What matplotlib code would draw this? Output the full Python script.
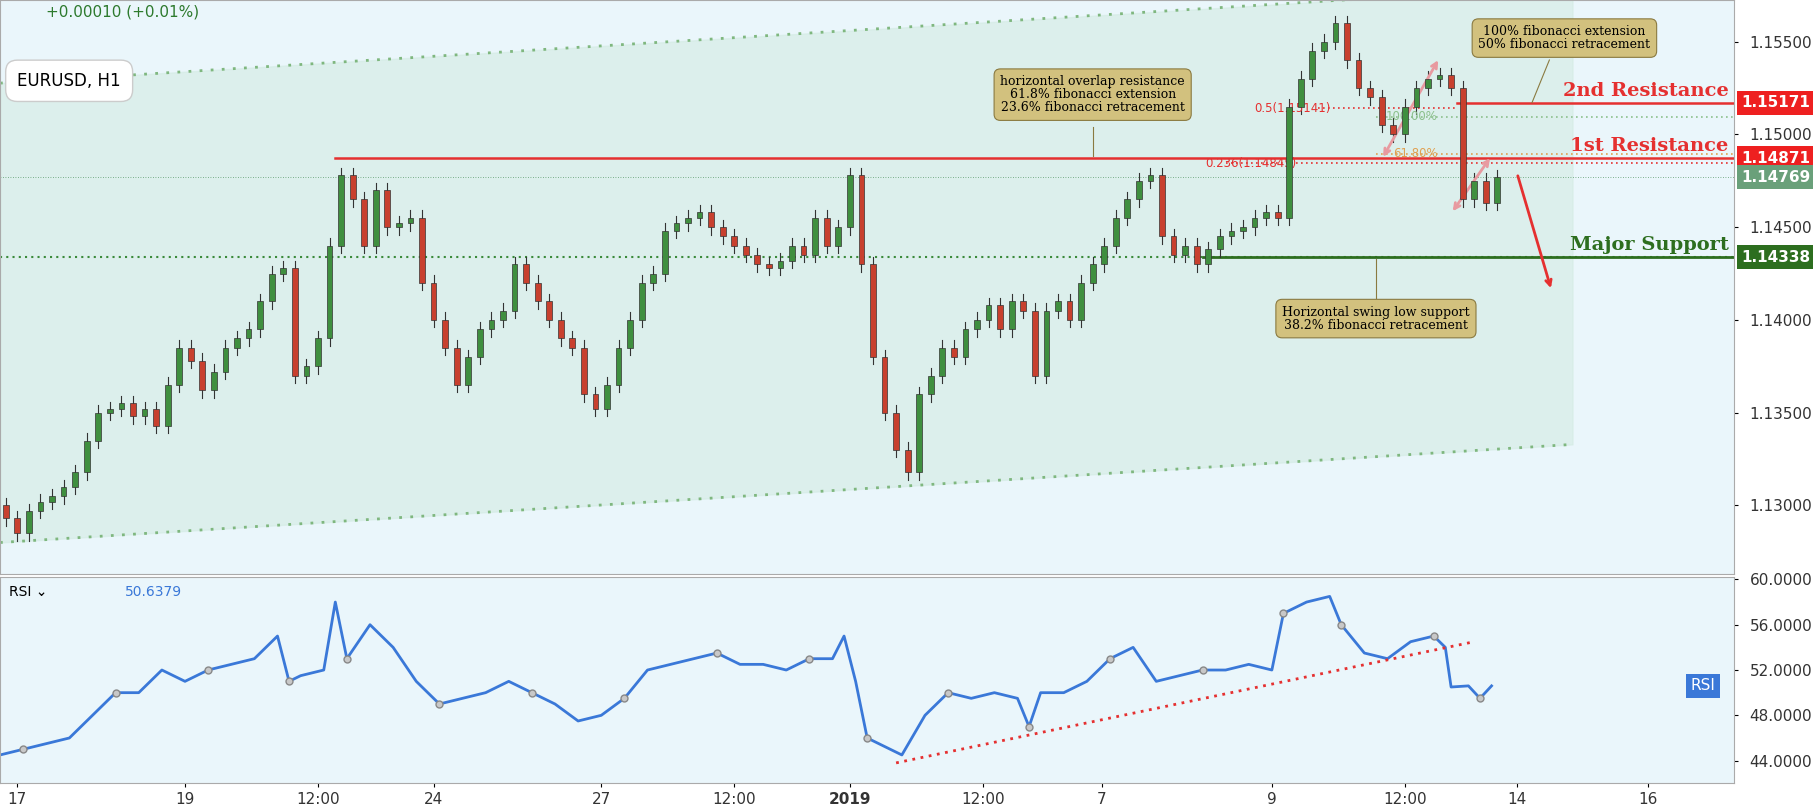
import numpy as np
import matplotlib.pyplot as plt

# closes, one candle every 10 x-units (x-units ~ chart pixels)
closes = [1.1293,1.1285,1.1297,1.1302,1.1305,1.1310,1.1318,1.1335,1.1350,1.1352,
          1.1355,1.1348,1.1352,1.1343,1.1365,1.1385,1.1378,1.1362,1.1372,1.1385,
          1.1390,1.1395,1.1410,1.1425,1.1428,1.1370,1.1375,1.1390,1.1440,1.1478,
          1.1465,1.1440,1.1470,1.1450,1.1452,1.1455,1.1420,1.1400,1.1385,1.1365,
          1.1380,1.1395,1.1400,1.1405,1.1430,1.1420,1.1410,1.1400,1.1390,1.1385,
          1.1360,1.1352,1.1365,1.1385,1.1400,1.1420,1.1425,1.1448,1.1452,1.1455,
          1.1458,1.1450,1.1445,1.1440,1.1435,1.1430,1.1428,1.1432,1.1440,1.1435,
          1.1455,1.1440,1.1450,1.1478,1.1430,1.1380,1.1350,1.1330,1.1318,1.1360,
          1.1370,1.1385,1.1380,1.1395,1.1400,1.1408,1.1395,1.1410,1.1405,1.1370,
          1.1405,1.1410,1.1400,1.1420,1.1430,1.1440,1.1455,1.1465,1.1475,1.1478,
          1.1445,1.1435,1.1440,1.1430,1.1438,1.1445,1.1448,1.1450,1.1455,1.1458,
          1.1455,1.1515,1.1530,1.1545,1.1550,1.1560,1.1540,1.1525,1.1520,1.1505,
          1.1500,1.1515,1.1525,1.1530,1.1532,1.1525,1.1465,1.1475,1.1463,1.1477]
first_open = 1.1300
wick = 0.0004

rsi_x = [0,20,40,60,80,100,120,140,160,180,200,220,240,250,260,280,290,300,320,340,
         360,380,400,420,440,460,480,500,520,540,560,580,600,620,640,660,680,700,720,730,
         740,750,760,780,800,820,840,860,880,890,900,920,940,960,980,1000,1020,1040,1060,1080,
         1100,1110,1120,1130,1150,1160,1180,1200,1220,1240,1250,1255,1270,1280,1290]
rsi_vals = [44.5,45,45.5,46,48,50,50,52,51,52,52.5,53,55,51,51.5,52,58,53,56,54,
            51,49,49.5,50,51,50,49,47.5,48,49.5,52,52.5,53,53.5,52.5,52.5,52,53,53,55,
            51,46,45.5,44.5,48,50,49.5,50,49.5,47,50,50,51,53,54,51,51.5,52,52,52.5,
            52,57,57.5,58,58.5,56,53.5,53,54.5,55,54,50.5,50.6,49.5,50.6]

price_ticks = [1.155, 1.150, 1.145, 1.140, 1.135, 1.130]
rsi_ticks = [60, 56, 52, 48, 44]
x_ticks = [15, 160, 275, 375, 520, 635, 735, 850, 953, 1100, 1215, 1312, 1425]
x_labels = ['17', '19', '12:00', '24', '27', '12:00', '2019', '12:00', '7', '9', '12:00', '14', '16']

bg = '#eaf6fb'
up, dn = '#3f8f3f', '#c8402e'

fig = plt.figure(figsize=(18.13, 8.08), dpi=100, facecolor='white')
W, H = 1568, 700   # layout measured on a 1568x700 view
ax = fig.add_axes([0, 1 - 497 / H, 1500 / W, 497 / H], facecolor=bg)
ar = fig.add_axes([0, 1 - 678 / H, 1500 / W, 178 / H], facecolor=bg, sharex=ax)

py = lambda y: 1.155 - (y - 36) * 6.22e-5
FS = 11

# channel
cx = np.array([0, 1360])
upper = np.array([py(72), py(-12)])
lower = np.array([py(470), py(385)])
ax.fill_between(cx, lower, upper, color='#d3ebe3', alpha=0.6, zorder=0)
ax.plot([0, 1500], [py(72), py(-21)], ls=(0, (1, 3)), color='#7fb77f', lw=2)
ax.plot(cx, lower, ls=(0, (1, 3)), color='#7fb77f', lw=2)

# candles
xs = np.arange(len(closes)) * 10 + 5
opens = [first_open] + closes[:-1]
for x, o, c in zip(xs, opens, closes):
    col = up if c >= o else dn
    lo, hi = min(o, c), max(o, c)
    ax.plot([x, x], [lo - wick, hi + wick], color='#333333', lw=0.8, zorder=3)
    ax.bar(x, max(hi - lo, 0.00005), bottom=lo, width=5, color=col,
           edgecolor='#333333', lw=0.5, zorder=4)

# levels
ax.axhline(1.14769, color='#5a9a6a', lw=0.6, ls=(0, (1, 2)))
ax.plot([290, 1500], [1.14871, 1.14871], color='#e53030', lw=1.8)
ax.plot([1260, 1500], [1.15171, 1.15171], color='#e53030', lw=1.8)
ax.plot([0, 1500], [1.14338, 1.14338], color='#3a8a3a', ls=(0, (1, 2)), lw=1.5)
ax.plot([1040, 1500], [1.14338, 1.14338], color='#2d6e1f', lw=2)
ax.plot([1140, 1260], [1.15141, 1.15141], color='#e53030', ls=(0, (1, 2)), lw=1.2)
ax.plot([1060, 1500], [1.14845, 1.14845], color='#e53030', ls=(0, (1, 2)), lw=1.2)
ax.plot([1190, 1500], [py(101), py(101)], color='#8cc08c', ls=(0, (1, 2)), lw=1.2)
ax.plot([1190, 1500], [py(133), py(133)], color='#e0a050', ls=(0, (1, 2)), lw=1.2)
ax.text(1085, 1.15141, '0.5(1.15141)', fontsize=8.5, color='#e53030', va='center')
ax.text(1042, 1.14845, '0.236(1.14845)', fontsize=8.5, color='#e53030', va='center')
ax.text(1198, py(101), '100.00%', fontsize=8.5, color='#8cc08c', va='center')
ax.text(1205, py(133), '61.80%', fontsize=8.5, color='#e0a050', va='center')

# arrows
pk = dict(arrowstyle='<->', color='#e89aa0', lw=2)
ax.annotate('', xy=(1195, py(138)), xytext=(1245, py(50)), arrowprops=pk)
ax.annotate('', xy=(1255, py(185)), xytext=(1290, py(135)), arrowprops=pk)
ax.annotate('', xy=(1342, py(252)), xytext=(1312, py(150)),
            arrowprops=dict(arrowstyle='->', color='#e53030', lw=2))

for y, t, c in [(1.15171, '2nd Resistance', '#e53030'), (1.14871, '1st Resistance', '#e53030'),
                (1.14338, 'Major Support', '#2d6e1f')]:
    ax.text(1495, y + 0.00015, t, color=c, fontsize=14, fontfamily='DejaVu Serif',
            fontweight='bold', ha='right', va='bottom')

note = dict(boxstyle='round,pad=0.5', fc='#d2c17e', ec='#8a7a40', lw=0.8)
ax.text(945, py(82), 'horizontal overlap resistance\n61.8% fibonacci extension\n23.6% fibonacci retracement',
        fontsize=9, ha='center', va='center', bbox=note, fontfamily='DejaVu Serif', linespacing=1.0)
ax.plot([945, 945], [py(110), py(135)], color='#8a7a40', lw=0.8)
ax.text(1190, py(276), 'Horizontal swing low support\n38.2% fibonacci retracement',
        fontsize=9, ha='center', va='center', bbox=note, fontfamily='DejaVu Serif', linespacing=1.0)
ax.plot([1190, 1190], [py(224), py(258)], color='#8a7a40', lw=0.8)
ax.text(1353, py(33), '100% fibonacci extension\n50% fibonacci retracement',
        fontsize=9, ha='center', va='center', bbox=note, fontfamily='DejaVu Serif', linespacing=1.0)
ax.plot([1325, 1340], [1.15171, py(52)], color='#8a7a40', lw=0.8)

ax.text(15, py(70), 'EURUSD, H1', fontsize=12, va='center',
        bbox=dict(boxstyle='round,pad=0.7', fc='white', ec='#cccccc'))
ax.text(40, py(10), '+0.00010 (+0.01%)', fontsize=11, color='#2d7a2d', va='center')

ax.set_xlim(0, 1500)
ax.set_ylim(py(497), py(0))
ax.yaxis.tick_right()
ax.set_yticks(price_ticks)
ax.set_yticklabels([f'{v:.5f}' for v in price_ticks], fontsize=FS, color='#333')
ax.tick_params(axis='x', bottom=False, labelbottom=False)
ax.tick_params(axis='y', length=3, pad=8)
for s in ax.spines.values():
    s.set_color('#aaaaaa')

def tag(axis, y, txt, fc, tc='white'):
    axis.text(1.004, y, txt, transform=axis.get_yaxis_transform(), fontsize=FS,
              color=tc, va='center', fontweight='bold',
              bbox=dict(boxstyle='square,pad=0.3', fc=fc, ec='none'))

tag(ax, 1.15171, '1.15171', '#ee2020')
tag(ax, 1.14871, '1.14871', '#ee2020')
tag(ax, 1.14769, '1.14769', '#6aa07a')
tag(ax, 1.14338, '1.14338', '#2d6e1f')

# RSI
ar.plot(rsi_x, rsi_vals, color='#3a78d8', lw=2)
ar.plot(rsi_x[1::4], rsi_vals[1::4], 'o', ms=5, mfc='#c8c8c8', mec='#888', lw=0)
ar.plot([775, 1275], [43.8, 54.5], color='#e53030', ls=(0, (1, 2)), lw=2)
ar.set_ylim(42.06, 60.2)
ar.yaxis.tick_right()
ar.set_yticks(rsi_ticks)
ar.set_yticklabels([f'{v:.4f}' for v in rsi_ticks], fontsize=FS, color='#333')
ar.tick_params(axis='y', length=3, pad=8)
ar.set_xticks(x_ticks)
ar.set_xticklabels(x_labels, fontsize=FS, color='#333')
for lbl in ar.get_xticklabels():
    if lbl.get_text() == '2019':
        lbl.set_fontweight('bold')
ar.tick_params(axis='x', length=3)
for s in ar.spines.values():
    s.set_color('#aaaaaa')
ar.text(8, 58.9, 'RSI \u2304', fontsize=10, va='center')
ar.text(108, 58.9, '50.6379', fontsize=10, color='#3a78d8', va='center')
ar.text(1462, 50.6, 'RSI', fontsize=FS, color='white', va='center',
        bbox=dict(boxstyle='square,pad=0.3', fc='#3a78d8', ec='none'))

fig.savefig('out.png', dpi=100, facecolor='white')
